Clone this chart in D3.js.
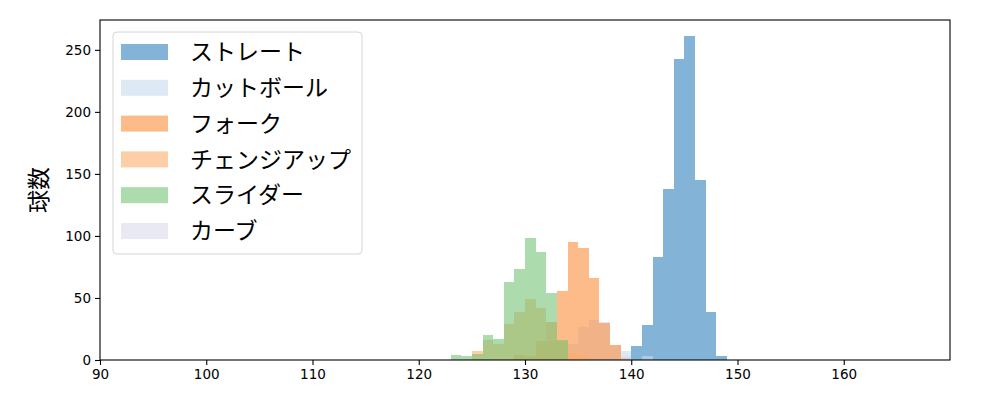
<!DOCTYPE html>
<html>
<head>
<meta charset="utf-8">
<script src="https://cdn.jsdelivr.net/npm/d3@7"></script>
<style>
  body { margin: 0; background: #fff; }
  svg text { font-family: "DejaVu Sans", sans-serif; }
  .jp { font-family: "Noto Sans CJK JP", sans-serif; }
</style>
</head>
<body>
<div id="chart"></div>
<script>
// Pitch types (legend order) and their colours
let pitchNames = ["ストレート", "カットボール", "フォーク", "チェンジアップ", "スライダー", "カーブ"];
let pitchColors = ["#3182bd", "#c6dbef", "#fd8d3c", "#fdae6b", "#74c476", "#dadaeb"];

// Histogram bins (left edge, km/h) and counts per pitch type, 1 km/h wide
let straightBins = [140, 141, 142, 143, 144, 145, 146, 147, 148];
let straightCounts = [11, 28, 83, 138, 243, 261, 145, 39, 3];

let cutBins = [134, 135, 136, 137, 138, 139, 141];
let cutCounts = [13, 27, 32, 31, 12, 7, 3];

let forkBins = [129, 130, 131, 132, 133, 134, 135, 136, 137, 138, 139];
let forkCounts = [4, 3, 15, 31, 56, 95, 90, 66, 30, 12, 2];

let changeBins = [125, 126, 127, 128, 129, 130, 131, 132, 133, 134, 135];
let changeCounts = [7, 16, 13, 29, 39, 49, 42, 15, 15, 6, 4];

let sliderBins = [123, 124, 125, 126, 127, 128, 129, 130, 131, 132, 133];
let sliderCounts = [4, 3, 5, 20, 17, 63, 73, 98, 87, 54, 16];

let curveBins = [139];
let curveCounts = [3];

// Axis ticks
let xTicks = [90, 100, 110, 120, 130, 140, 150, 160];
let yTicks = [0, 50, 100, 150, 200, 250];

let svgWidth = 1000;
let svgHeight = 400;
let margin = { top: 20, right: 50, bottom: 40, left: 100 };
let width = svgWidth - margin.left - margin.right;
let height = svgHeight - margin.top - margin.bottom;

let svg = d3.select("#chart")
  .append("svg")
  .attr("width", svgWidth)
  .attr("height", svgHeight);

let chartGroup = svg.append("g")
  .attr("transform", `translate(${margin.left}, ${margin.top})`);

let xScale = d3.scaleLinear().domain([90, 170]).range([0, width]);
let yScale = d3.scaleLinear().domain([0, 261 * 1.05]).range([height, 0]);

// build one table per pitch type for drawing
let series = [
  [straightBins, straightCounts],
  [cutBins, cutCounts],
  [forkBins, forkCounts],
  [changeBins, changeCounts],
  [sliderBins, sliderCounts],
  [curveBins, curveCounts]
].map((s, i) => ({
  name: pitchNames[i],
  color: pitchColors[i],
  bins: s[0].map((b, j) => ({ x0: b, x1: b + 1, count: s[1][j] }))
}));

// bars, in legend order so later types sit on top
series.forEach(s => {
  chartGroup.append("g")
    .attr("shape-rendering", "crispEdges")
    .selectAll("rect")
    .data(s.bins)
    .enter()
    .append("rect")
    .attr("x", d => xScale(d.x0))
    .attr("width", d => xScale(d.x1) - xScale(d.x0))
    .attr("y", d => yScale(d.count))
    .attr("height", d => yScale(0) - yScale(d.count))
    .attr("fill", s.color)
    .attr("fill-opacity", 0.6);
});

// axes
let bottomAxis = d3.axisBottom(xScale).tickValues(xTicks).tickSize(5).tickPadding(4);
let leftAxis = d3.axisLeft(yScale).tickValues(yTicks).tickSize(5).tickPadding(4);

let xAxis = chartGroup.append("g")
  .attr("transform", `translate(0, ${height})`)
  .call(bottomAxis);
let yAxis = chartGroup.append("g").call(leftAxis);

[xAxis, yAxis].forEach(a => {
  a.select(".domain").remove();
  a.selectAll("line").attr("stroke", "#000").attr("stroke-width", 1.1);
  a.selectAll("text").attr("font-size", "13.5px").attr("fill", "#000");
});

// frame
chartGroup.append("rect")
  .attr("width", width)
  .attr("height", height)
  .attr("fill", "none")
  .attr("stroke", "#000")
  .attr("stroke-width", 1.1);

// y label
svg.append("text")
  .attr("class", "jp")
  .attr("transform", `translate(47, ${margin.top + height / 2}) rotate(-90)`)
  .attr("text-anchor", "middle")
  .attr("font-size", "23px")
  .text("球数");

// legend
let legend = chartGroup.append("g").attr("transform", "translate(13, 12)");
legend.append("rect")
  .attr("width", 249)
  .attr("height", 222)
  .attr("rx", 4)
  .attr("fill", "#fff")
  .attr("fill-opacity", 0.8)
  .attr("stroke", "#d6d6d6");

series.forEach((s, i) => {
  let row = legend.append("g").attr("transform", `translate(8, ${12 + i * 35.8})`);
  row.append("rect")
    .attr("width", 47)
    .attr("height", 16)
    .attr("fill", s.color)
    .attr("fill-opacity", 0.6);
  row.append("text")
    .attr("class", "jp")
    .attr("x", 69)
    .attr("y", 8)
    .attr("dy", "0.36em")
    .attr("font-size", "23px")
    .attr("fill", "#000")
    .text(s.name);
});
</script>
</body>
</html>
